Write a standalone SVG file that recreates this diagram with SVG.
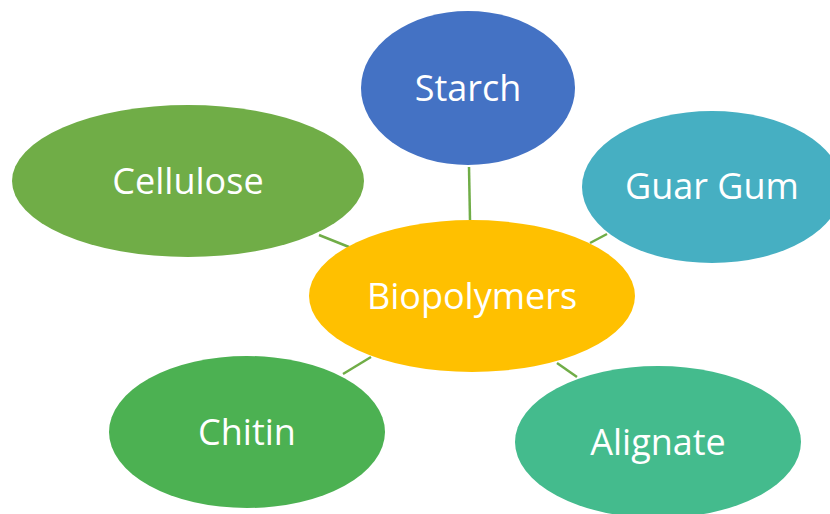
<svg xmlns="http://www.w3.org/2000/svg" width="830" height="514" viewBox="0 0 830 514">
<style>
.lbl{font-family:"Open Sans","Noto Sans",sans-serif;font-size:36px;fill:#fff;text-anchor:middle}
.conn line{stroke:#70AD47;stroke-width:2.5}
</style>
<rect width="830" height="514" fill="#fff"/>
<g id="connectors" class="conn">
<line x1="469" y1="167" x2="470" y2="220"/>
<line x1="319" y1="235" x2="349" y2="247"/>
<line x1="590" y1="243" x2="607" y2="234"/>
<line x1="343" y1="374" x2="371" y2="357"/>
<line x1="557" y1="363" x2="577" y2="377"/>
</g>
<g id="starch"><ellipse cx="468" cy="88" rx="107" ry="77" fill="#4472C4"/><text class="lbl" x="468" y="101">Starch</text></g>
<g id="guargum"><ellipse cx="712" cy="187" rx="130" ry="76" fill="#46AFC2"/><text class="lbl" x="712" y="199">Guar Gum</text></g>
<g id="cellulose"><ellipse cx="188" cy="181" rx="176" ry="76" fill="#70AD47"/><text class="lbl" x="188" y="194">Cellulose</text></g>
<g id="biopolymers"><ellipse cx="472" cy="296" rx="163" ry="76" fill="#FFC000"/><text class="lbl" x="472" y="309">Biopolymers</text></g>
<g id="chitin"><ellipse cx="247" cy="432" rx="138" ry="76" fill="#4CB152"/><text class="lbl" x="247" y="445">Chitin</text></g>
<g id="alignate"><ellipse cx="658" cy="442" rx="143" ry="76" fill="#44BB8D"/><text class="lbl" x="658" y="455">Alignate</text></g>
</svg>
